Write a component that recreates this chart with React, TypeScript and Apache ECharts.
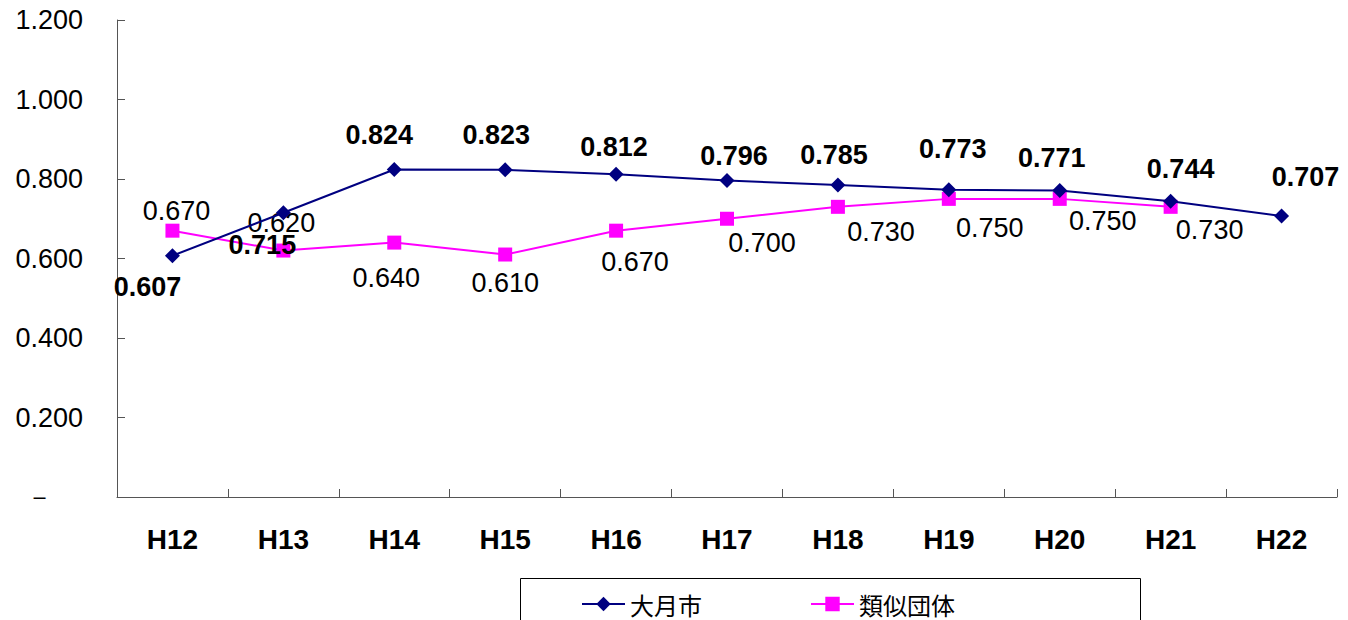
import React, { useEffect, useRef } from "react";
import * as echarts from "echarts";

const categories = ["H12", "H13", "H14", "H15", "H16", "H17", "H18", "H19", "H20", "H21", "H22"];
const otsukiValues = [0.607, 0.715, 0.824, 0.823, 0.812, 0.796, 0.785, 0.773, 0.771, 0.744, 0.707];
const similarValues: (number | null)[] = [0.67, 0.62, 0.64, 0.61, 0.67, 0.7, 0.73, 0.75, 0.75, 0.73, null];
const seriesNames = ["大月市", "類似団体"];

// label offsets (style only): [dx, dy] relative to the marker
const otsukiLabelOffsets = [
  [-25, 31], [-21, 32], [-15, -34], [-9, -35], [-2, -27], [7, -25], [-4, -30], [4, -41], [-8, -33], [10, -32], [24, -39],
];
const similarLabelOffsets = [
  [4, -20], [-2, -28], [-8, 35], [0, 28], [19, 31], [35, 24], [43, 25], [41, 29], [43, 22], [39, 23], [0, 0],
];

export default function App() {
  const ref = useRef<HTMLDivElement>(null);
  useEffect(() => {
    if (!ref.current) return;
    const chart = echarts.init(ref.current, null, { renderer: "svg" });
    const font = "'Liberation Sans', Arial, sans-serif";
    chart.setOption({
      animation: false,
      textStyle: { fontFamily: font },
      grid: { left: 117, top: 20, right: 11, bottom: 123, containLabel: false },
      xAxis: {
        type: "category",
        data: categories,
        boundaryGap: true,
        axisLine: { lineStyle: { color: "#555", width: 1 } },
        axisTick: { show: true, inside: true, length: 8, lineStyle: { color: "#555" } },
        axisLabel: { color: "#000", fontSize: 28, fontWeight: "bold", margin: 28, fontFamily: font },
      },
      yAxis: {
        type: "value",
        min: 0,
        max: 1.2,
        interval: 0.2,
        splitLine: { show: false },
        axisLine: { show: true, lineStyle: { color: "#555", width: 1 } },
        axisTick: { show: true, inside: true, length: 8, lineStyle: { color: "#555" } },
        axisLabel: {
          color: "#000",
          fontSize: 27,
          margin: 34,
          fontFamily: font,
          formatter: (v: number) => (v === 0 ? "－    " : v.toFixed(3)),
        },
      },
      legend: {
        left: 576,
        top: 587,
        itemWidth: 43,
        itemHeight: 18,
        itemGap: 108,
        textStyle: { fontSize: 24, color: "#000", fontFamily: "'Noto Sans CJK JP', sans-serif" },
        data: seriesNames,
      },
      graphic: [
        {
          type: "rect",
          shape: { x: 520.5, y: 578.5, width: 620, height: 60 },
          style: { fill: "none", stroke: "#000", lineWidth: 1 },
          silent: true,
          z: -1,
        },
      ],
      series: [
        {
          name: seriesNames[0],
          type: "line",
          data: otsukiValues.map((v, i) => ({
            value: v,
            label: { offset: otsukiLabelOffsets[i] },
          })),
          symbol: "diamond",
          symbolSize: 15,
          itemStyle: { color: "#000080" },
          lineStyle: { color: "#000080", width: 2 },
          z: 3,
          label: {
            show: true,
            position: "inside",
            formatter: (p: any) => Number(p.value).toFixed(3),
            fontSize: 27,
            fontWeight: "bold",
            color: "#000",
            fontFamily: font,
          },
        },
        {
          name: seriesNames[1],
          type: "line",
          data: similarValues.map((v, i) => ({
            value: v,
            label: { offset: similarLabelOffsets[i] },
          })),
          symbol: "rect",
          symbolSize: 14,
          itemStyle: { color: "#FF00FF" },
          lineStyle: { color: "#FF00FF", width: 2 },
          z: 2,
          label: {
            show: true,
            position: "inside",
            formatter: (p: any) => (p.value == null ? "" : Number(p.value).toFixed(3)),
            fontSize: 27,
            color: "#000",
            fontFamily: font,
          },
        },
      ],
    });
    return () => chart.dispose();
  }, []);
  return (
    <div
      ref={ref}
      style={{ position: "absolute", left: 0, top: 0, width: 1348, height: 620, background: "#fff" }}
    />
  );
}
